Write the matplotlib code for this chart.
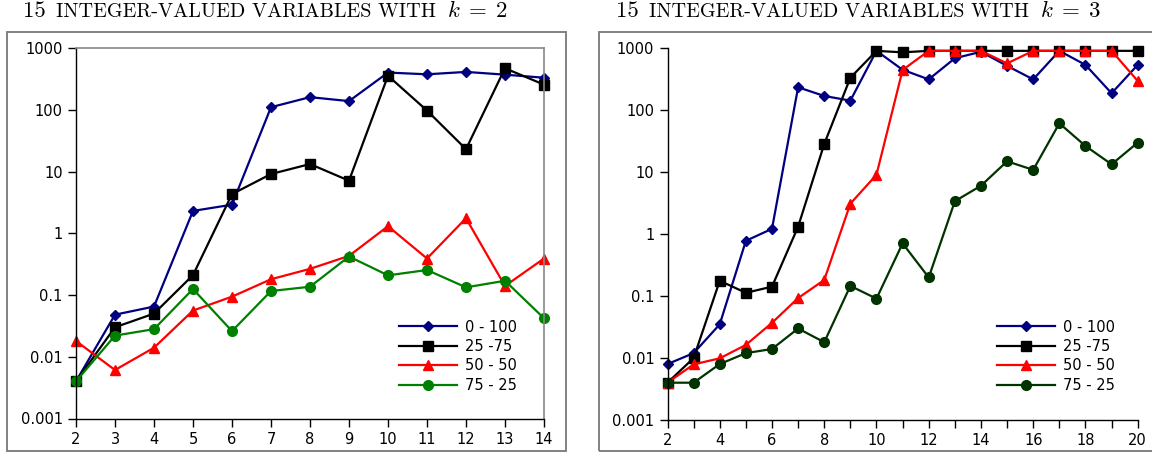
import numpy as np
import matplotlib
matplotlib.use("Agg")
import matplotlib.pyplot as plt
from matplotlib.patches import Rectangle

plt.rcParams["mathtext.fontset"] = "cm"

# data
series_names = ["0 - 100", "25 -75", "50 - 50", "75 - 25"]

x_k2 = list(range(2, 15))
k2_0_100 = [0.004, 0.048, 0.065, 2.3, 2.9, 110, 160, 138, 400, 375, 410, 370, 330]
k2_25_75 = [0.004, 0.030, 0.050, 0.21, 4.3, 9.1, 13.2, 7.1, 355, 97, 23, 470, 255]
k2_50_50 = [0.018, 0.0061, 0.014, 0.056, 0.094, 0.18, 0.265, 0.43, 1.3, 0.39, 1.75, 0.14, 0.39]
k2_75_25 = [0.004, 0.022, 0.028, 0.125, 0.026, 0.116, 0.136, 0.42, 0.208, 0.254, 0.133, 0.17, 0.042]

x_k3 = list(range(2, 21))
k3_0_100 = [0.008, 0.012, 0.035, 0.78, 1.22, 235, 170, 143, 910, 450, 315, 690, 880,
            520, 315, 910, 540, 188, 540]
k3_25_75 = [0.004, 0.010, 0.177, 0.113, 0.142, 1.32, 28.5, 335, 910, 860, 910, 910, 910,
            910, 910, 910, 910, 910, 910]
k3_50_50 = [0.004, 0.0079, 0.0099, 0.0163, 0.037, 0.093, 0.182, 3.1, 9.1, 447, 910, 910, 910,
            570, 910, 910, 910, 910, 297]
k3_75_25 = [0.004, 0.004, 0.008, 0.012, 0.014, 0.030, 0.018, 0.146, 0.091, 0.71, 0.2, 3.4, 6.05,
            15, 10.9, 61.5, 26.5, 13.4, 30]

y_ticks = [0.001, 0.01, 0.1, 1, 10, 100, 1000]
y_labels = ["0.001", "0.01", "0.1", "1", "10", "100", "1000"]

W, H = 1152, 453
fig = plt.figure(figsize=(W / 100, H / 100), dpi=100)


def px_axes(l, r, t, b):
    return fig.add_axes([l / W, 1 - b / H, (r - l) / W, (b - t) / H])


styles = [
    dict(marker="D", ms=5, lw=1.6),
    dict(marker="s", ms=7.5, lw=1.6),
    dict(marker="^", ms=7.5, lw=1.6),
    dict(marker="o", ms=7, lw=1.6),
]


def draw_panel(ax, x, ys, colors, xticks, xlabels, box):
    for y, name, c, st in zip(ys, series_names, colors, styles):
        ax.plot(x, y, color=c, label=name, clip_on=False, **st)
    ax.set_yscale("log")
    ax.set_xlim(x[0], x[-1])
    ax.set_ylim(0.001, 1000)
    ax.set_yticks(y_ticks)
    ax.set_yticklabels(y_labels)
    ax.minorticks_off()
    ax.set_xticks(xticks)
    ax.set_xticklabels(xlabels)
    ax.tick_params(direction="out", length=6, width=1, labelsize=10.5, top=False, right=False)
    for s in ("left", "bottom"):
        ax.spines[s].set_linewidth(1)
    if box:
        for s in ("top", "right"):
            ax.spines[s].set_color("#888888")
            ax.spines[s].set_linewidth(1.2)
    else:
        ax.spines["top"].set_visible(False)
        ax.spines["right"].set_visible(False)


ax1 = px_axes(76, 544, 48, 418.5)
draw_panel(ax1, x_k2, [k2_0_100, k2_25_75, k2_50_50, k2_75_25],
           ["#000080", "black", "#ff0000", "#008000"],
           x_k2, [str(v) for v in x_k2], True)

ax2 = px_axes(667.5, 1137.7, 48.3, 420)
draw_panel(ax2, x_k3, [k3_0_100, k3_25_75, k3_50_50, k3_75_25],
           ["#000080", "black", "#ff0000", "#003300"],
           x_k3, [str(v) if v % 2 == 0 else "" for v in x_k3], False)

for ax, lx in ((ax1, 399), (ax2, 997)):
    ax.legend(loc="upper left", bbox_to_anchor=(lx / W, 1 - 319.5 / H),
              bbox_transform=fig.transFigure, frameon=False, fontsize=10.5,
              handlelength=4.0, handletextpad=0.5, labelspacing=0.3,
              borderpad=0, borderaxespad=0, numpoints=1)

# gray frames around each panel
fig.patches.append(Rectangle((7.3 / W, 1 - 450.5 / H), (565.7 - 7.3) / W, (450.5 - 31.7) / H,
                             transform=fig.transFigure, fill=False, ec="#777777", lw=1.3))
fig.patches.append(Rectangle((599 / W, 1 - 450.5 / H), 0.6, (450.5 - 31.7) / H,
                             transform=fig.transFigure, fill=False, ec="#777777", lw=1.3))

# titles with small caps imitation
renderer = fig.canvas.get_renderer()


def title(x0, k):
    yb = 1 - 17.3 / H
    x = x0 / W
    parts = [("15", 16.5, "cmr10", 10),
             ("INTEGER-VALUED VARIABLES WITH", 14.5, "cmr10", 11),
             (r"$k\;=\;%d$" % k, 16.5, None, 0)]
    for s, size, fam, gap in parts:
        kw = dict(fontsize=size, va="baseline", ha="left")
        if fam:
            kw["fontfamily"] = fam
        t = fig.text(x, yb, s, **kw)
        bb = t.get_window_extent(renderer)
        x += (bb.width + gap) / W


title(23, 2)
title(616, 3)

fig.savefig("out.png", dpi=100)
